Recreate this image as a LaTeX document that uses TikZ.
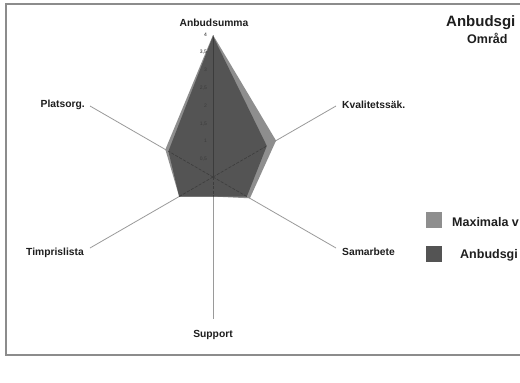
\documentclass[tikz,border=0pt]{standalone}
\usepackage{fontspec}
\setmainfont{Liberation Sans}
\usetikzlibrary{calc}
\definecolor{framegray}{HTML}{8C8C8C}
\definecolor{axisgray}{HTML}{9A9A9A}
\definecolor{maxfill}{HTML}{8E8E8E}
\definecolor{bidfill}{HTML}{545454}
\definecolor{innerline}{HTML}{3C3C3C}
\definecolor{textdark}{HTML}{1E1E1E}
\tikzset{
  axisline/.style={draw=axisgray, line width=0.8pt},
  axislabel/.style={font=\fontsize{10.3}{12}\selectfont\bfseries, text=textdark, inner sep=0pt},
  ticklabel/.style={font=\fontsize{5}{6}\selectfont, text=textdark, inner sep=0pt, anchor=east},
  titlelabel/.style={font=\fontsize{15}{17}\selectfont\bfseries, text=textdark, inner sep=0pt, anchor=west},
  sublabel/.style={font=\fontsize{12.5}{14}\selectfont\bfseries, text=textdark, inner sep=0pt, anchor=west},
  legendlabel/.style={font=\fontsize{12.5}{14}\selectfont\bfseries, text=textdark, inner sep=0pt, anchor=west},
  legendbox/.style={minimum size=16pt, inner sep=0pt, draw=none},
  framestroke/.style={draw=framegray, line width=1.2pt},
}
\begin{document}
\begin{tikzpicture}[x=1pt,y=-1pt]
\useasboundingbox (0,0) rectangle (520,383);
\clip (0,0) rectangle (520,383);
\fill[white] (0,0) rectangle (520,383);

% chart frame (open to the right)
\draw[framestroke] (520,4) -- (6,4) -- (6,355) -- (520,355);

% radar centre and axis end points (value 4)
\coordinate (c)  at (213,177);
\coordinate (aA) at (213,35);
\coordinate (aK) at (336,106);
\coordinate (aS) at (336,248);
\coordinate (aU) at (213,319);
\coordinate (aT) at (90,248);
\coordinate (aP) at (90,106);

% axes
\foreach \e in {aA,aK,aS,aU,aT,aP}
  \draw[axisline] (c) -- (\e);

% maximum values
\fill[maxfill]
  ($(c)!4/4!(aA)$) -- ($(c)!2.05/4!(aK)$) -- ($(c)!1.2/4!(aS)$) --
  ($(c)!0.55/4!(aU)$) -- ($(c)!1.1/4!(aT)$) -- ($(c)!1.55/4!(aP)$) -- cycle;

% bid values
\coordinate (dA) at ($(c)!3.97/4!(aA)$);
\coordinate (dK) at ($(c)!1.75/4!(aK)$);
\coordinate (dS) at ($(c)!1.1/4!(aS)$);
\coordinate (dU) at ($(c)!0.55/4!(aU)$);
\coordinate (dT) at ($(c)!1.1/4!(aT)$);
\coordinate (dP) at ($(c)!1.45/4!(aP)$);
\fill[bidfill] (dA) -- (dK) -- (dS) -- (dU) -- (dT) -- (dP) -- cycle;

% axes seen through the filled area
\begin{scope}
  \clip (dA) -- (dK) -- (dS) -- (dU) -- (dT) -- (dP) -- cycle;
  \foreach \e in {aA,aK,aS,aU,aT,aP}
    \draw[innerline, line width=0.6pt, dash pattern=on 3pt off 1.5pt] (c) -- (\e);
  \draw[innerline, line width=0.7pt] (c) -- (aA);
\end{scope}

% scale on the first axis
\node[ticklabel] (t40) at (207,35) {4};
\node[ticklabel] (t35) at (207,52.5) {3,5};
\node[ticklabel, text=innerline] (t30) at (207,70) {3};
\node[ticklabel, text=innerline] (t25) at (207,88) {2,5};
\node[ticklabel, text=innerline] (t20) at (207,106) {2};
\node[ticklabel, text=innerline] (t15) at (207,124) {1,5};
\node[ticklabel, text=innerline] (t10) at (207,141) {1};
\node[ticklabel, text=innerline] (t05) at (207,159) {0,5};

% axis labels
\node[axislabel, anchor=south] (lA) at (214,27) {Anbudsumma};
\node[axislabel, anchor=west]  (lK) at (342,105) {Kvalitetssäk.};
\node[axislabel, anchor=west]  (lS) at (342,252) {Samarbete};
\node[axislabel, anchor=north] (lU) at (213,330) {Support};
\node[axislabel, anchor=east]  (lT) at (84,253) {Timprislista};
\node[axislabel, anchor=east]  (lP) at (85,105) {Platsorg.};

% title
\node[titlelabel] (title) at (446,23) {Anbudsgi};
\node[sublabel] (sub) at (467,38) {Områd};

% legend
\node[legendbox, fill=maxfill] (kmax) at (434,220) {};
\node[legendbox, fill=bidfill] (kbid) at (434,253.5) {};
\node[legendlabel] (tmax) at (452,222) {Maximala v};
\node[legendlabel] (tbid) at (460,255) {Anbudsgi};
\end{tikzpicture}
\end{document}
